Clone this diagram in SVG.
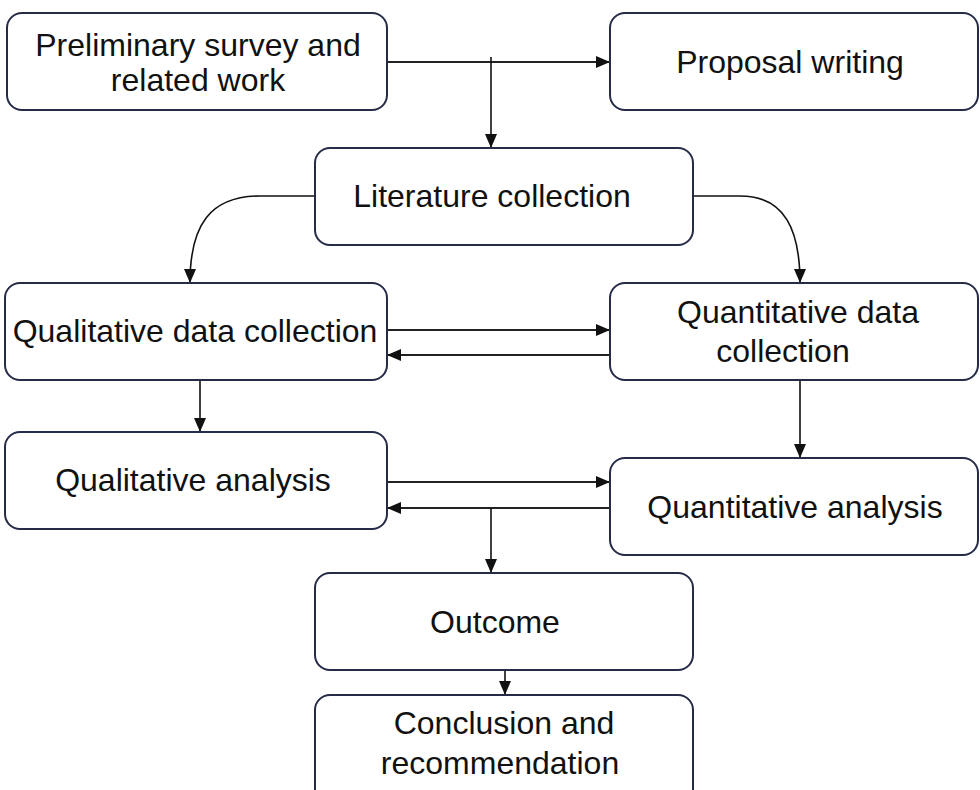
<svg xmlns="http://www.w3.org/2000/svg" width="980" height="790" viewBox="0 0 980 790">
<defs>
<marker id="ahb" viewBox="0 0 14 12" refX="14" refY="6" markerWidth="14" markerHeight="12" markerUnits="userSpaceOnUse" orient="auto">
<path d="M0,0 L14,6 L0,12 z" fill="#111"/>
</marker>
</defs>
<style>
.box{fill:#fff;stroke:#262c48;stroke-width:2}
.t{font-family:"Liberation Sans",Arial,sans-serif;font-size:32px;fill:#111;text-anchor:middle}
.c{fill:none;stroke:#111;stroke-width:1.6}
.c2{fill:none;stroke:#222;stroke-width:2.2}
</style>
<rect width="980" height="790" fill="#fff"/>
<g id="connectors">
<path class="c2" d="M387,62 H610" marker-end="url(#ahb)"/>
<path class="c" d="M491,57 V148" marker-end="url(#ahb)"/>
<path class="c" d="M315,196 H260 C210,196 190,225 190,283" marker-end="url(#ahb)"/>
<path class="c" d="M693,196 H740 C785,196 800,230 800,283" marker-end="url(#ahb)"/>
<path class="c2" d="M387,330 H610" marker-end="url(#ahb)"/>
<path class="c2" d="M610,355 H387" marker-end="url(#ahb)"/>
<path class="c" d="M200,380 V432" marker-end="url(#ahb)"/>
<path class="c" d="M800,380 V458" marker-end="url(#ahb)"/>
<path class="c2" d="M387,482 H610" marker-end="url(#ahb)"/>
<path class="c2" d="M610,508 H387" marker-end="url(#ahb)"/>
<path class="c" d="M491,508 V573" marker-end="url(#ahb)"/>
<path class="c" d="M505,670 V695" marker-end="url(#ahb)"/>
</g>
<g id="n1"><rect class="box" x="7" y="13" width="380" height="97" rx="15"/>
<text class="t" x="198" y="56">Preliminary survey and</text><text class="t" x="198" y="91">related work</text></g>
<g id="n2"><rect class="box" x="610" y="13" width="368" height="97" rx="15"/>
<text class="t" x="790" y="73">Proposal writing</text></g>
<g id="n3"><rect class="box" x="315" y="148" width="378" height="97" rx="15"/>
<text class="t" x="492" y="207">Literature collection</text></g>
<g id="n4"><rect class="box" x="5" y="283" width="382" height="97" rx="15"/>
<text class="t" x="195" y="342">Qualitative data collection</text></g>
<g id="n5"><rect class="box" x="610" y="283" width="368" height="97" rx="15"/>
<text class="t" x="798" y="323">Quantitative data</text><text class="t" x="783" y="362">collection</text></g>
<g id="n6"><rect class="box" x="5" y="432" width="382" height="97" rx="15"/>
<text class="t" x="193" y="491">Qualitative analysis</text></g>
<g id="n7"><rect class="box" x="610" y="458" width="368" height="97" rx="15"/>
<text class="t" x="795" y="518">Quantitative analysis</text></g>
<g id="n8"><rect class="box" x="315" y="573" width="378" height="97" rx="15"/>
<text class="t" x="495" y="633">Outcome</text></g>
<g id="n9"><rect class="box" x="315" y="695" width="378" height="110" rx="15"/>
<text class="t" x="504" y="734">Conclusion and</text><text class="t" x="500" y="774">recommendation</text></g>
</svg>
